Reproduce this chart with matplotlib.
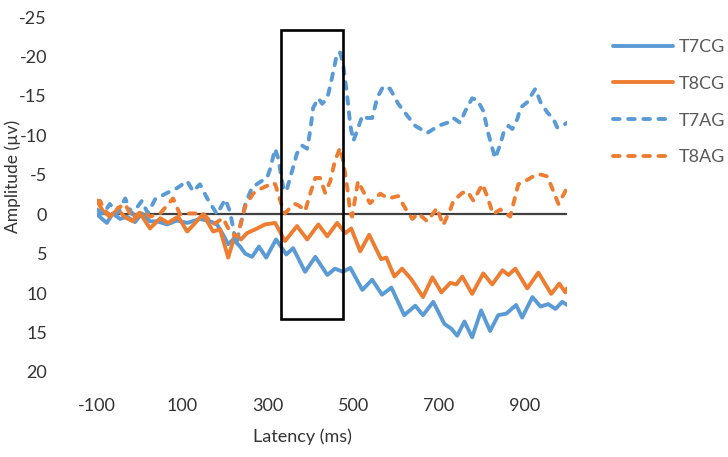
import matplotlib
matplotlib.use("Agg")
import matplotlib.pyplot as plt
from matplotlib.patches import Rectangle

plt.rcParams['font.family'] = ['Lato', 'DejaVu Sans']
plt.rcParams['axes.unicode_minus'] = False

# ---- data (latency in ms, amplitude in µV) ----
t7cg_ms = [-100, -88, -77, -63, -46, -30, -11, 5, 24, 41, 64, 87, 111, 141, 165, 181, 195, 207,
           219, 235, 247, 263, 279, 296, 319, 343, 359, 387, 411, 439, 457, 476, 493, 521, 544,
           567, 589, 619, 645, 663, 687, 713, 729, 743, 760, 778, 799, 820, 839, 858, 881, 895,
           919, 938, 956, 973, 989, 1000]
t7cg_amp = [0.0, 0.6, 1.1, -0.1, 0.6, 0.3, 1.0, -0.1, 0.9, 0.9, 1.3, 0.8, 1.1, 0.6, 0.9, 1.3, 2.6, 3.8,
            3.2, 4.1, 5.0, 5.4, 4.1, 5.5, 3.2, 5.1, 4.3, 7.3, 5.4, 7.7, 6.9, 7.3, 6.8, 9.6, 8.3,
            10.2, 9.3, 12.8, 11.6, 12.8, 11.1, 13.9, 14.5, 15.4, 13.6, 15.6, 12.2, 14.8, 12.8, 12.6, 11.5, 13.1,
            10.5, 11.7, 11.4, 12.0, 11.1, 11.5]

t8cg_ms = [-100, -86, -70, -51, -34, -16, 1, 24, 48, 66, 90, 111, 130, 148, 172, 188, 207, 223,
           237, 251, 275, 293, 317, 340, 368, 392, 418, 439, 462, 481, 495, 516, 537, 565, 577,
           596, 614, 635, 663, 685, 706, 727, 741, 755, 778, 804, 825, 849, 863, 879, 907, 933,
           963, 982, 996, 1000]
t8cg_amp = [-1.7, -0.4, 0.3, -0.6, 0.4, 0.9, -0.1, 1.8, 0.5, 1.1, 0.3, 2.2, 1.1, 0.0, 2.2, 1.9, 5.5, 2.6,
            3.2, 2.4, 1.8, 1.3, 1.1, 3.4, 1.5, 3.2, 1.3, 2.8, 1.1, 2.4, 1.8, 4.7, 2.6, 5.7, 5.5,
            7.9, 6.9, 8.2, 10.5, 8.0, 9.9, 8.7, 8.9, 7.9, 10.1, 7.5, 8.9, 7.1, 7.7, 6.9, 9.4, 7.4,
            10.1, 8.8, 9.9, 9.4]

t7ag_ms = [-100, -86, -70, -53, -34, -18, 5, 19, 36, 64, 87, 111, 125, 141, 158, 181, 200, 211,
           226, 247, 263, 282, 298, 305, 317, 324, 336, 343, 352, 368, 380, 392, 399, 406, 418,
           427, 439, 450, 462, 469, 476, 486, 493, 500, 509, 521, 532, 544, 556, 570, 586, 605,
           626, 645, 673, 699, 720, 734, 750, 762, 778, 790, 804, 816, 825, 832, 844, 853, 863,
           872, 884, 891, 907, 919, 926, 938, 954, 968, 977, 989, 1000]
t7ag_amp = [-0.6, 0.0, -1.3, -0.1, -2.0, 0.0, -1.7, -0.1, -1.9, -2.7, -3.3, -4.2, -2.9, -3.8, -2.0, 0.0, -1.9, -0.4,
            3.8, -1.3, -3.4, -4.1, -4.6, -5.7, -8.3, -7.1, -3.3, -2.9, -4.6, -7.7, -8.7, -8.3, -10.6, -13.5, -14.7,
            -14.0, -14.7, -17.3, -20.4, -20.5, -19.1, -14.8, -11.2, -9.3, -10.6, -12.5, -12.2, -12.2, -14.8, -16.2, -15.9, -14.0,
            -12.5, -11.2, -10.3, -11.2, -11.6, -12.2, -11.6, -13.1, -14.7, -14.5, -13.1, -10.2, -8.4, -7.1, -8.9, -10.6, -11.2,
            -10.8, -12.1, -13.5, -14.2, -15.3, -15.9, -14.2, -12.9, -12.1, -11.0, -11.2, -11.6]

t8ag_ms = [-100, -93, -81, -65, -51, -34, -18, 5, 24, 48, 78, 94, 118, 148, 172, 195, 211, 228,
           247, 265, 282, 298, 310, 317, 324, 333, 340, 352, 364, 375, 387, 399, 411, 422, 434,
           446, 457, 469, 476, 486, 493, 497, 511, 523, 539, 563, 582, 605, 621, 638, 652, 673,
           696, 710, 727, 734, 755, 767, 781, 802, 813, 827, 844, 867, 886, 902, 921, 933, 954,
           966, 980, 996, 1000]
t8ag_amp = [-1.7, -1.7, -0.4, 0.3, -0.8, -1.3, 0.5, -0.4, 0.3, -0.1, -2.0, 0.0, -0.1, -0.1, 1.3, 0.5, 2.2, 2.9,
            -1.0, -2.6, -3.2, -3.6, -4.0, -3.8, -2.6, -1.0, -0.1, -0.8, -1.3, -1.0, -0.4, -2.6, -4.6, -4.6, -2.7,
            -4.2, -6.8, -8.4, -6.8, -3.3, -0.1, 0.3, -4.2, -2.9, -1.4, -2.6, -2.0, -2.3, -0.8, 0.6, -0.1, 0.9,
            -0.8, 1.4, -0.6, -1.7, -2.7, -2.9, -1.7, -3.8, -2.3, 0.0, -0.6, 0.3, -3.8, -4.2, -4.8, -5.1, -4.8,
            -3.2, -1.3, -2.9, -4.0]

series_names = ['T7CG', 'T8CG', 'T7AG', 'T8AG']
x_ticks = [-100, 100, 300, 500, 700, 900]
y_ticks = [-25, -20, -15, -10, -5, 0, 5, 10, 15, 20]
box_ms = (331, 476)
box_amp = (-23.3, 13.3)

# ---- style ----
W, H = 728, 457
BLUE = '#5B9BD5'
ORANGE = '#ED7D31'
TXT = '#333333'
FS = 13

fig = plt.figure(figsize=(W / 100, H / 100), dpi=100)
ax = fig.add_axes([97 / W, 1 - 372 / H, 470 / W, 355 / H])

lw = 2.8
dash = (0, (1.7, 2.2))
l1, = ax.plot(t7cg_ms, t7cg_amp, color=BLUE, lw=lw, solid_joinstyle='round', solid_capstyle='round')
l2, = ax.plot(t8cg_ms, t8cg_amp, color=ORANGE, lw=lw, solid_joinstyle='round', solid_capstyle='round')
l3, = ax.plot(t7ag_ms, t7ag_amp, color=BLUE, lw=lw, linestyle=dash, dash_capstyle='round',
              dash_joinstyle='round')
l4, = ax.plot(t8ag_ms, t8ag_amp, color=ORANGE, lw=lw, linestyle=dash, dash_capstyle='round',
              dash_joinstyle='round')

ax.axhline(0, xmin=0.006, xmax=1.0, color='#404040', lw=1.6, zorder=1)

ax.add_patch(Rectangle((box_ms[0], box_amp[0]), box_ms[1] - box_ms[0], box_amp[1] - box_amp[0],
                       fill=False, edgecolor='black', lw=1.9, zorder=5))

ax.set_xlim(-100, 1000)
ax.set_ylim(20, -25)
ax.set_xticks(x_ticks)
ax.set_yticks(y_ticks)
ax.tick_params(length=0, labelsize=FS, labelcolor=TXT)
ax.tick_params(axis='y', pad=36)
ax.tick_params(axis='x', pad=19)
for s in ax.spines.values():
    s.set_visible(False)

fig.text(302 / W, 1 - 437 / H, 'Latency (ms)', ha='center', va='center', fontsize=FS, color=TXT)
fig.text(13 / W, 1 - 176 / H, 'Amplitude (µv)', ha='center', va='center', rotation=90,
         fontsize=12.5, color=TXT)

fig.legend([l1, l2, l3, l4], series_names, loc='upper left', bbox_to_anchor=(613 / W, 1 - 39 / H),
           frameon=False, borderpad=0, borderaxespad=0, handlelength=3.3, handletextpad=0.35,
           labelspacing=1.15, fontsize=FS, labelcolor='#595959')

fig.savefig('out.png', dpi=100, facecolor='white')
